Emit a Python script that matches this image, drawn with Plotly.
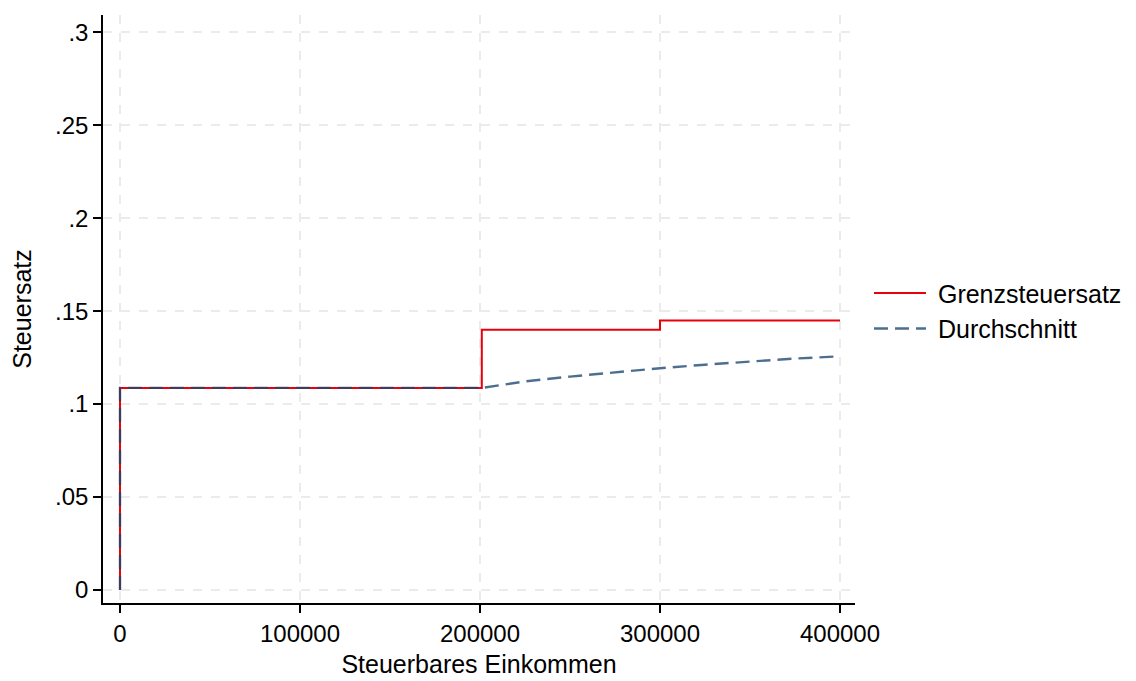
import plotly.graph_objects as go

# Marginal tax rate (step function)
marg_x = [0, 0, 201000, 201000, 300000, 300000, 400000]
marg_y = [0, 0.1087, 0.1087, 0.140, 0.140, 0.145, 0.145]

# Average tax rate
avg_x = [0, 0, 201000, 225000, 250000, 275000, 300000, 325000, 350000, 375000, 400000]
avg_y = [0, 0.1087, 0.1087, 0.1122, 0.1148, 0.1172, 0.1193, 0.1212, 0.1230, 0.1245, 0.1257]

x_ticks = [0, 100000, 200000, 300000, 400000]
x_labels = ["0", "100000", "200000", "300000", "400000"]
y_ticks = [0, 0.05, 0.1, 0.15, 0.2, 0.25, 0.3]
y_labels = ["0", ".05", ".1", ".15", ".2", ".25", ".3"]

FONT = "Liberation Sans, Arial, sans-serif"
NB = "\u00a0"

fig = go.Figure()
fig.add_trace(go.Scatter(x=marg_x, y=marg_y, mode="lines", name=NB + "Grenzsteuersatz",
                         line=dict(color="#e8000b", width=2)))
fig.add_trace(go.Scatter(x=avg_x, y=avg_y, mode="lines", name=NB + "Durchschnitt",
                         line=dict(color="rgba(26,71,111,0.78)", width=2.4, dash="14px,7px")))

axis_common = dict(
    showline=True, linecolor="black", linewidth=1.5,
    ticks="outside", ticklen=8, tickwidth=1.5, tickcolor="black",
    showgrid=True, gridcolor="#ebebeb", gridwidth=1.5, griddash="dash",
    zeroline=False, tickfont=dict(size=24, color="black", family=FONT),
    mirror=False,
)

fig.update_xaxes(range=[-9444, 408333], tickvals=x_ticks, ticktext=x_labels,
                 title=dict(text="Steuerbares Einkommen", font=dict(size=25, family=FONT, color="black"),
                            standoff=10),
                 **axis_common)
fig.update_yaxes(range=[-0.007, 0.3093], tickvals=y_ticks, ticktext=y_labels,
                 title=dict(text="Steuersatz", font=dict(size=25, family=FONT, color="black"),
                            standoff=18),
                 **axis_common)

# page body has an 8px margin, so the figure is offset by (8, 8)
fig.update_layout(
    width=1128, height=673,
    margin=dict(l=95, r=281, t=7, b=76),
    paper_bgcolor="white", plot_bgcolor="white",
    font=dict(family=FONT, color="black"),
    legend=dict(x=1.0186, y=0.497, xanchor="left", yanchor="middle",
                font=dict(size=25, family=FONT, color="black"),
                itemwidth=52, tracegroupgap=0, bgcolor="rgba(0,0,0,0)"),
    showlegend=True,
)

fig.write_html("out.html")
